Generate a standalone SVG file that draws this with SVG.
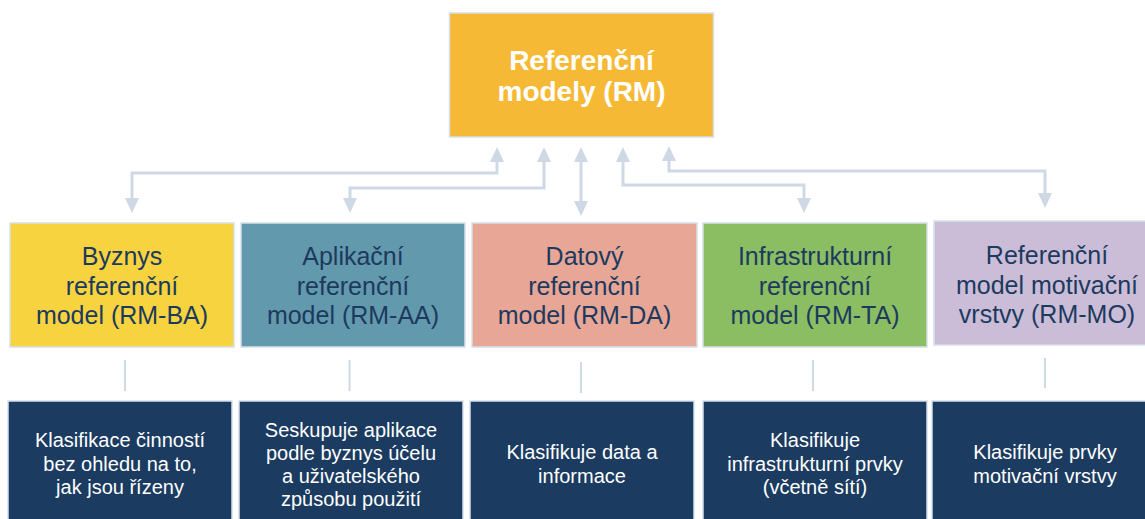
<svg xmlns="http://www.w3.org/2000/svg" width="1145" height="519" viewBox="0 0 1145 519">
  <style>
    .box { stroke: #d6dfea; stroke-width: 1.5; }
    .conn { fill: none; stroke: #cfd9e5; stroke-width: 3; }
    .tick { fill: none; stroke: #cfd9e5; stroke-width: 2; }
    .top { font-family: "Liberation Sans", Arial, sans-serif; font-size: 28px; font-weight: bold; fill: #ffffff; text-anchor: middle; }
    .mid { font-family: "Liberation Sans", Arial, sans-serif; font-size: 25px; fill: #1c3a5e; text-anchor: middle; }
    .desc { font-family: "Liberation Sans", Arial, sans-serif; font-size: 20px; fill: #ffffff; text-anchor: middle; }
    .dark { fill: #1b3b60; }
  </style>
  <defs>
    <marker id="arrow" viewBox="0 0 15 14" refX="0" refY="7" markerWidth="15" markerHeight="14" markerUnits="userSpaceOnUse" orient="auto-start-reverse">
      <path d="M0,0 L15,7 L0,14 z" fill="#cfd9e5"/>
    </marker>
  </defs>
  <rect width="1145" height="519" fill="#ffffff"/>

  <g id="connectors">
    <path class="conn" d="M497,162 V173 H132 V198" marker-start="url(#arrow)" marker-end="url(#arrow)"/>
    <path class="conn" d="M544,162 V188 H350 V198" marker-start="url(#arrow)" marker-end="url(#arrow)"/>
    <path class="conn" d="M581,162 V201" marker-start="url(#arrow)" marker-end="url(#arrow)"/>
    <path class="conn" d="M623,162 V185 H804 V198" marker-start="url(#arrow)" marker-end="url(#arrow)"/>
    <path class="conn" d="M669,161 V171 H1045 V193" marker-start="url(#arrow)" marker-end="url(#arrow)"/>
    <line class="tick" x1="125" y1="360" x2="125" y2="391"/>
    <line class="tick" x1="349.5" y1="360" x2="349.5" y2="391"/>
    <line class="tick" x1="581" y1="362" x2="581" y2="393"/>
    <line class="tick" x1="813" y1="360" x2="813" y2="391"/>
    <line class="tick" x1="1045" y1="358" x2="1045" y2="388"/>
  </g>

  <g id="rm">
    <rect class="box" x="449.5" y="13" width="264" height="124" fill="#f6b935"/>
    <text class="top" x="581.5" y="70">Referenční</text>
    <text class="top" x="581.5" y="101">modely (RM)</text>
  </g>

  <g id="rm-ba">
    <rect class="box" x="10" y="223" width="224" height="124" fill="#f7d43f"/>
    <text class="mid" x="122" y="265">Byznys</text>
    <text class="mid" x="122" y="295">referenční</text>
    <text class="mid" x="122" y="324">model (RM-BA)</text>
  </g>
  <g id="rm-aa">
    <rect class="box" x="241" y="223" width="224" height="124" fill="#6399ad"/>
    <text class="mid" x="353" y="265">Aplikační</text>
    <text class="mid" x="353" y="295">referenční</text>
    <text class="mid" x="353" y="324">model (RM-AA)</text>
  </g>
  <g id="rm-da">
    <rect class="box" x="472" y="223" width="225" height="124" fill="#e8a696"/>
    <text class="mid" x="584.5" y="265">Datový</text>
    <text class="mid" x="584.5" y="295">referenční</text>
    <text class="mid" x="584.5" y="324">model (RM-DA)</text>
  </g>
  <g id="rm-ta">
    <rect class="box" x="703" y="223" width="224" height="124" fill="#8bbd62"/>
    <text class="mid" x="815" y="265">Infrastrukturní</text>
    <text class="mid" x="815" y="295">referenční</text>
    <text class="mid" x="815" y="324">model (RM-TA)</text>
  </g>
  <g id="rm-mo">
    <rect class="box" x="934" y="221" width="226" height="124" fill="#cbbdd8"/>
    <text class="mid" x="1047" y="264">Referenční</text>
    <text class="mid" x="1047" y="294">model motivační</text>
    <text class="mid" x="1047" y="323">vrstvy (RM-MO)</text>
  </g>

  <g id="desc-ba">
    <rect class="box dark" x="8" y="401" width="224" height="130"/>
    <text class="desc" x="120" y="447">Klasifikace činností</text>
    <text class="desc" x="120" y="471">bez ohledu na to,</text>
    <text class="desc" x="120" y="494">jak jsou řízeny</text>
  </g>
  <g id="desc-aa">
    <rect class="box dark" x="239" y="401" width="224" height="130"/>
    <text class="desc" x="351" y="437">Seskupuje aplikace</text>
    <text class="desc" x="351" y="460">podle byznys účelu</text>
    <text class="desc" x="351" y="483">a uživatelského</text>
    <text class="desc" x="351" y="506">způsobu použití</text>
  </g>
  <g id="desc-da">
    <rect class="box dark" x="470" y="401" width="224" height="130"/>
    <text class="desc" x="582" y="459">Klasifikuje data a</text>
    <text class="desc" x="582" y="483">informace</text>
  </g>
  <g id="desc-ta">
    <rect class="box dark" x="703" y="401" width="224" height="130"/>
    <text class="desc" x="815" y="447">Klasifikuje</text>
    <text class="desc" x="815" y="471">infrastrukturní prvky</text>
    <text class="desc" x="815" y="494">(včetně sítí)</text>
  </g>
  <g id="desc-mo">
    <rect class="box dark" x="932" y="401" width="226" height="130"/>
    <text class="desc" x="1045" y="459">Klasifikuje prvky</text>
    <text class="desc" x="1045" y="483">motivační vrstvy</text>
  </g>
</svg>
